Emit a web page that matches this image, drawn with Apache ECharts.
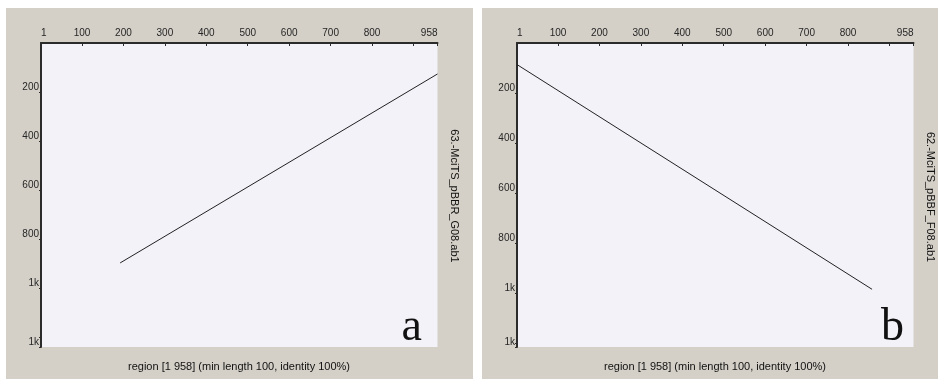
<!DOCTYPE html>
<html>
<head>
<meta charset="utf-8">
<script src="https://cdn.jsdelivr.net/npm/echarts@6/dist/echarts.min.js"></script>
<style>
  html, body { margin: 0; padding: 0; background: #ffffff; }
  #chart { width: 938px; height: 379px; }
</style>
</head>
<body>
<div id="chart"></div>
<script>
// Query position (x) ticks shared by both dot plots
const xTicks = [1, 100, 200, 300, 400, 500, 600, 700, 800, 900, 958];
const xLabels = [1, 100, 200, 300, 400, 500, 600, 700, 800, 958];
const xMax = 958;

// Subject position (y) ticks for each plot
const yTicksA = [200, 400, 600, 800, 1000, 1200, 1238];
const yLabelsA = [200, 400, 600, 800, 1000, 1238];
const yMaxA = 1238;
const yTicksB = [200, 400, 600, 800, 1000, 1200, 1213];
const yLabelsB = [200, 400, 600, 800, 1000, 1213];
const yMaxB = 1213;

// Matched diagonal segments [query, subject]
const segA = [[192, 896], [958, 127]];
const segB = [[1, 87], [858, 983]];

const nameA = '63.-MciTS_pBBR_G08.ab1';
const nameB = '62.-MciTS_pBBF_F08.ab1';
const regionText = 'region [1 958] (min length 100, identity 100%)';

const font = 'Liberation Sans, Arial, sans-serif';
const axisColor = '#2b2b2b';

function xAxisFor(gridIndex) {
  return {
    type: 'value', gridIndex, position: 'top', min: 1, max: xMax,
    axisLine: { show: true, lineStyle: { color: axisColor, width: 2 } },
    axisTick: { show: true, inside: true, length: 3, customValues: xTicks,
      lineStyle: { color: axisColor, width: 1 } },
    axisLabel: { customValues: xLabels, color: '#262626', fontSize: 10,
      fontFamily: font, margin: 5, alignMinLabel: 'left', alignMaxLabel: 'right' },
    splitLine: { show: false }
  };
}

function yAxisFor(gridIndex, max, ticks, labels) {
  return {
    type: 'value', gridIndex, inverse: true, min: 1, max: max,
    axisLine: { show: true, lineStyle: { color: axisColor, width: 2 } },
    axisTick: { show: true, length: 2, customValues: ticks,
      lineStyle: { color: axisColor, width: 1 } },
    axisLabel: { customValues: labels, color: '#262626', fontSize: 10,
      fontFamily: font, margin: 2, verticalAlign: 'bottom',
      formatter: v => (v >= 1000 ? '1k' : String(v)) },
    splitLine: { show: false }
  };
}

const chart = echarts.init(document.getElementById('chart'), null, { renderer: 'canvas' });

chart.setOption({
  animation: false,
  backgroundColor: '#ffffff',
  grid: [
    { left: 41, top: 43, width: 396.5, height: 304, show: true,
      backgroundColor: '#f2f2f8', borderWidth: 0 },
    { left: 517, top: 43, width: 396.5, height: 304, show: true,
      backgroundColor: '#f2f2f8', borderWidth: 0 }
  ],
  xAxis: [xAxisFor(0), xAxisFor(1)],
  yAxis: [yAxisFor(0, yMaxA, yTicksA, yLabelsA), yAxisFor(1, yMaxB, yTicksB, yLabelsB)],
  series: [
    { type: 'line', xAxisIndex: 0, yAxisIndex: 0, data: segA, symbol: 'none',
      lineStyle: { color: '#222', width: 1 } },
    { type: 'line', xAxisIndex: 1, yAxisIndex: 1, data: segB, symbol: 'none',
      lineStyle: { color: '#222', width: 1 } }
  ],
  graphic: [
    { type: 'rect', z: -10, shape: { x: 6, y: 8, width: 467, height: 371 },
      style: { fill: '#d4d0c8' } },
    { type: 'rect', z: -10, shape: { x: 482, y: 8, width: 456, height: 371 },
      style: { fill: '#d4d0c8' } },
    { type: 'text', x: 454, y: 196, rotation: -Math.PI / 2,
      style: { text: nameA, font: '11px ' + font, fill: '#111',
        textAlign: 'center', textVerticalAlign: 'middle' } },
    { type: 'text', x: 930, y: 197, rotation: -Math.PI / 2,
      style: { text: nameB, font: '11px ' + font, fill: '#111',
        textAlign: 'center', textVerticalAlign: 'middle' } },
    { type: 'text', x: 239, y: 367,
      style: { text: regionText, font: '11px ' + font, fill: '#111',
        textAlign: 'center', textVerticalAlign: 'middle' } },
    { type: 'text', x: 715, y: 367,
      style: { text: regionText, font: '11px ' + font, fill: '#111',
        textAlign: 'center', textVerticalAlign: 'middle' } },
    // panel letters, baseline near y = 340
    { type: 'text', x: 422, y: 351,
      style: { text: 'a', font: '46px Liberation Serif, serif', fill: '#111',
        textAlign: 'right', textVerticalAlign: 'bottom' } },
    { type: 'text', x: 904, y: 351,
      style: { text: 'b', font: '46px Liberation Serif, serif', fill: '#111',
        textAlign: 'right', textVerticalAlign: 'bottom' } }
  ]
});
</script>
</body>
</html>
